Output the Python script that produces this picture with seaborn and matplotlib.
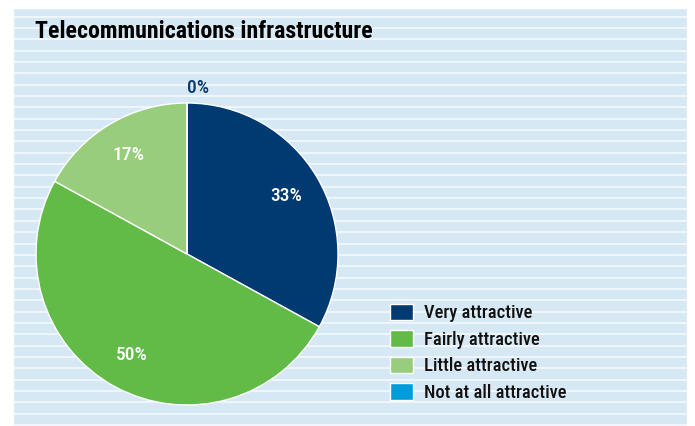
import numpy as np
import matplotlib
matplotlib.use("Agg")
import matplotlib.pyplot as plt
import seaborn as sns

# Survey shares for telecommunications infrastructure
categories = ["Very attractive", "Fairly attractive", "Little attractive", "Not at all attractive"]
shares = [33, 50, 17, 0]
colors = ["#003a70", "#62bb46", "#97cd7b", "#009cdc"]
title = "Telecommunications infrastructure"

sns.set_theme(style="white")
plt.rcParams["font.family"] = ["Roboto Condensed", "DejaVu Sans"]
plt.rcParams["font.stretch"] = "condensed"

W, H = 695, 426
fig = plt.figure(figsize=(W / 100, H / 100), dpi=100)
fig.patch.set_facecolor("white")

# Striped background panel
bg = fig.add_axes([13 / W, 0, (687 - 13) / W, (426 - 8) / H])
bg.set_xlim(0, 1)
bg.set_ylim(426, 8)
bg.set_facecolor("#d7e8f5")
for y in np.arange(16.5, 426, 11.35):
    bg.axhline(y, color="#f4f9fd", lw=1.2)
bg.set_axis_off()
bg.add_patch(plt.Rectangle((0, 8), 1, 418, facecolor="#d7e8f5", zorder=-1))

fig.text(35 / W, 1 - 32 / H, title, fontsize=17.2, fontweight="bold",
         color="black", va="center", ha="left")

# Pie chart
cx, cy, r = 187, 254, 151
ax = fig.add_axes([(cx - r) / W, (H - cy - r) / H, 2 * r / W, 2 * r / H])
wedges, _ = ax.pie(shares, colors=colors, startangle=90, counterclock=False,
                   radius=1, wedgeprops=dict(edgecolor="white", linewidth=1))
ax.set_xlim(-1, 1)
ax.set_ylim(-1, 1)
ax.set_aspect("equal")
ax.set_axis_off()

for w, v in zip(wedges, shares):
    mid = np.deg2rad((w.theta1 + w.theta2) / 2)
    if v == 0:
        ax.text(0, 1.1, f"{v}%", color="#0a3b6e", fontsize=14,
                fontweight="medium", ha="left", va="center")
    else:
        d = 0.76
        ax.text(d * np.cos(mid), d * np.sin(mid), f"{v}%", color="white",
                fontsize=14, fontweight="medium", ha="center", va="center")

# Legend
handles = [plt.Rectangle((0, 0), 1, 1, facecolor=c) for c in colors]
leg = fig.legend(handles, categories, loc="upper left",
                 bbox_to_anchor=(390 / W, 1 - 303.5 / H), frameon=False,
                 prop=dict(size=13.3, weight="medium"),
                 handlelength=1.25, handleheight=1.0,
                 handletextpad=0.6, labelspacing=0.43, borderaxespad=0,
                 borderpad=0)
for t in leg.get_texts():
    t.set_color("#111111")

fig.savefig("out.png", dpi=100)
